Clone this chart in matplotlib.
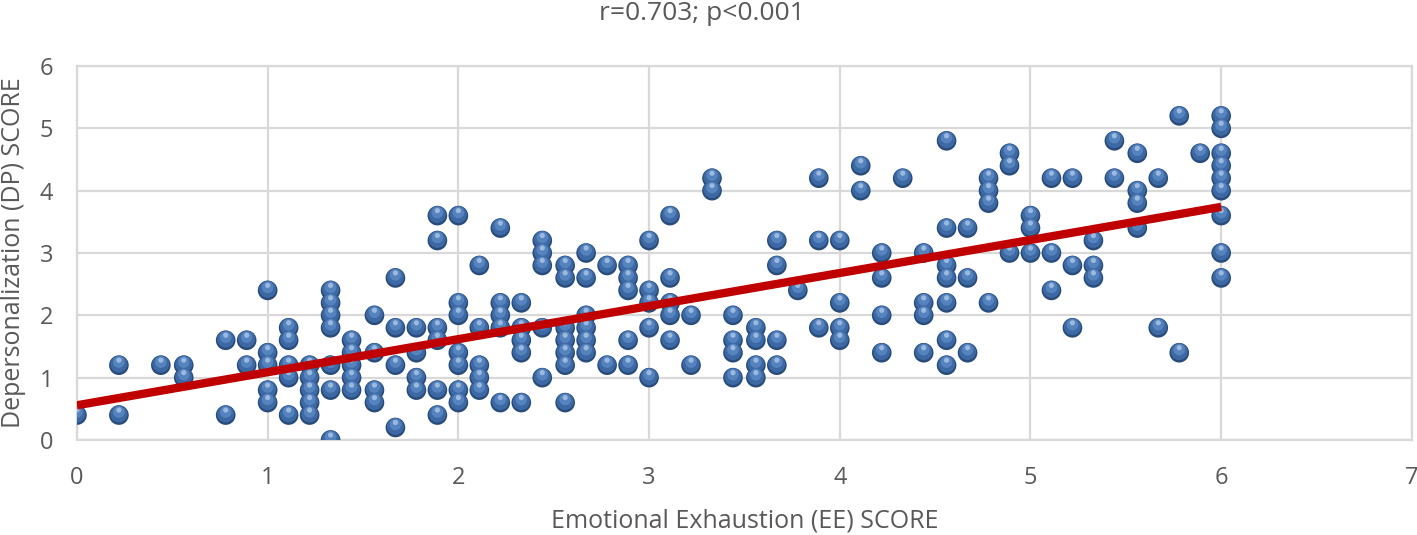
"""Scatter of DP score against EE score with a linear trend line."""

import matplotlib

matplotlib.use("Agg")
import matplotlib.pyplot as plt
import matplotlib.transforms as mtransforms
import numpy as np

# EE score levels (x) and the DP scores observed at each level (y)
ee_levels = [
    0.00, 0.22, 0.44, 0.56, 0.78, 0.89, 1.00, 1.11, 1.22, 1.33,
    1.44, 1.56, 1.67, 1.78, 1.89, 2.00, 2.11, 2.22, 2.33, 2.44,
    2.56, 2.67, 2.78, 2.89, 3.00, 3.11, 3.22, 3.33, 3.44, 3.56,
    3.67, 3.78, 3.89, 4.00, 4.11, 4.22, 4.33, 4.44, 4.56, 4.67,
    4.78, 4.89, 5.00, 5.11, 5.22, 5.33, 5.44, 5.56, 5.67, 5.78,
    5.89, 6.00,
]
dp_by_level = [
    [0.4],
    [1.2, 0.4],
    [1.2],
    [1.2, 1.0],
    [1.6, 0.4],
    [1.6, 1.2],
    [2.4, 1.4, 1.2, 0.8, 0.6],
    [1.8, 1.6, 1.2, 1.0, 0.4],
    [1.2, 1.0, 0.8, 0.6, 0.4],
    [2.4, 2.2, 2.0, 1.8, 1.2, 0.8, 0.0],
    [1.6, 1.4, 1.2, 1.0, 0.8],
    [2.0, 1.4, 0.8, 0.6],
    [2.6, 1.8, 1.2, 0.2],
    [1.8, 1.4, 1.0, 0.8],
    [3.6, 3.2, 1.8, 1.6, 0.8, 0.4],
    [3.6, 2.2, 2.0, 1.4, 1.2, 0.8, 0.6],
    [2.8, 1.8, 1.2, 1.0, 0.8],
    [3.4, 2.2, 2.0, 1.8, 0.6],
    [2.2, 1.8, 1.6, 1.4, 0.6],
    [3.2, 3.0, 2.8, 1.8, 1.0],
    [2.8, 2.6, 1.8, 1.6, 1.4, 1.2, 0.6],
    [3.0, 2.6, 2.0, 1.8, 1.6, 1.4],
    [2.8, 1.2],
    [2.8, 2.6, 2.4, 1.6, 1.2],
    [3.2, 2.4, 2.2, 1.8, 1.0],
    [3.6, 2.6, 2.2, 2.0, 1.6],
    [2.0, 1.2],
    [4.2, 4.0],
    [2.0, 1.6, 1.4, 1.0],
    [1.8, 1.6, 1.2, 1.0],
    [3.2, 2.8, 1.6, 1.2],
    [2.4],
    [4.2, 3.2, 1.8],
    [3.2, 2.2, 1.8, 1.6],
    [4.4, 4.0],
    [3.0, 2.6, 2.0, 1.4],
    [4.2],
    [3.0, 2.2, 2.0, 1.4],
    [4.8, 3.4, 2.8, 2.6, 2.2, 1.6, 1.2],
    [3.4, 2.6, 1.4],
    [4.2, 4.0, 3.8, 2.2],
    [4.6, 4.4, 3.0],
    [3.6, 3.4, 3.0],
    [4.2, 3.0, 2.4],
    [4.2, 2.8, 1.8],
    [3.2, 2.8, 2.6],
    [4.8, 4.2],
    [4.6, 4.0, 3.8, 3.4],
    [4.2, 1.8],
    [5.2, 1.4],
    [4.6],
    [5.2, 5.0, 4.6, 4.4, 4.2, 4.0, 3.6, 3.0, 2.6],
]
title = "r=0.703; p<0.001"
x_label = "Emotional Exhaustion (EE) SCORE"
y_label = "Depersonalization (DP) SCORE"

x = np.array([e for e, ys in zip(ee_levels, dp_by_level) for _ in ys])
y = np.array([v for ys in dp_by_level for v in ys])

plt.rcParams["font.family"] = ["Open Sans", "DejaVu Sans"]
fig = plt.figure(figsize=(14.17, 5.35), dpi=100)
ax = fig.add_axes([0.0543, 0.1776, 0.9421, 0.699])

grid_c = "#d9d9d9"
text_c = "#595959"

# sphere-like markers: dark lower rim, body, soft highlight on top
def shifted(dy):
    return mtransforms.offset_copy(ax.transData, fig=fig, x=0, y=dy,
                                   units="points")

ax.scatter(x, y, s=200, color="#284b7a", edgecolors="none", zorder=3)
ax.scatter(x, y, s=150, color="#3c68a3", edgecolors="none",
           transform=shifted(0.8), zorder=4)
ax.scatter(x, y, s=70, color="#5a88c4", edgecolors="none", alpha=0.85,
           transform=shifted(2.2), zorder=5)
ax.scatter(x, y, s=14, color="#b9d0ee", edgecolors="none", alpha=0.7,
           transform=shifted(3.6), zorder=5)

slope, intercept = np.polyfit(x, y, 1)
xl = np.array([x.min(), x.max()])
ax.plot(xl, intercept + slope * xl, color="#c00000", lw=6,
        solid_capstyle="butt", zorder=6)

ax.set_xlim(0, 7)
ax.set_ylim(0, 6)
ax.set_xticks(range(0, 8))
ax.set_yticks(range(0, 7))
ax.grid(True, color=grid_c, lw=1.6)
ax.set_axisbelow(True)
for sp in ax.spines.values():
    sp.set_color(grid_c)
    sp.set_linewidth(1.6)
ax.tick_params(axis="x", length=0, labelsize=17, labelcolor=text_c, pad=19)
ax.tick_params(axis="y", length=0, labelsize=17, labelcolor=text_c, pad=17)
ax.set_xlabel(x_label, fontsize=18, color=text_c, va="center")
ax.set_ylabel(y_label, fontsize=18, color=text_c, va="center")
ax.xaxis.set_label_coords(0.5, -0.2166)
ax.yaxis.set_label_coords(-0.0472, 0.5)
fig.text(0.4955, 0.9757, title, ha="center", va="center", fontsize=19,
         color=text_c)

fig.savefig("out.png", dpi=100)
